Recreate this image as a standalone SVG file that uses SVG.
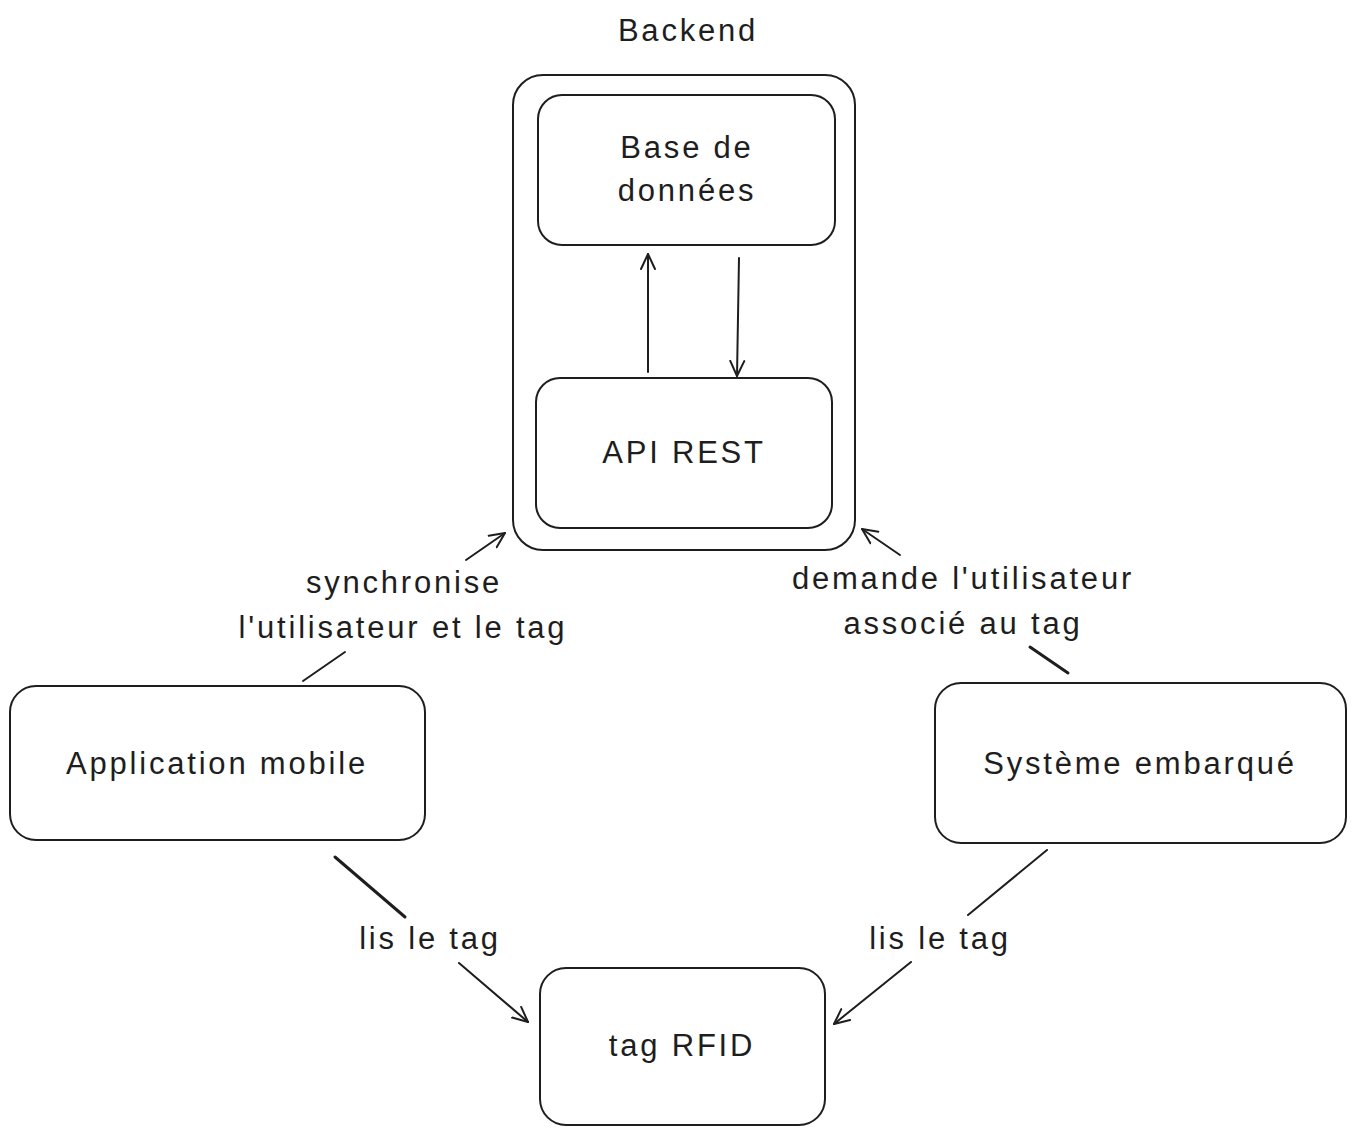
<svg xmlns="http://www.w3.org/2000/svg" width="1356" height="1135" viewBox="0 0 1356 1135">
<style>
.box{fill:#ffffff;stroke:#1e1e1e;stroke-width:2}
.lbl{font-family:"Liberation Sans","DejaVu Sans",sans-serif;font-size:31px;letter-spacing:2.8px;fill:#1e1e1e;text-anchor:middle;dominant-baseline:central}
.edge{fill:none;stroke:#1e1e1e;stroke-width:2;stroke-linecap:round}
</style>
<defs>
<marker id="arr" viewBox="-16 -10 20 20" markerWidth="20" markerHeight="20" refX="0" refY="0" orient="auto" markerUnits="userSpaceOnUse">
<path d="M -15 -7 L 0 0 L -15 7" fill="none" stroke="#1e1e1e" stroke-width="2" stroke-linecap="round" stroke-linejoin="round"/>
</marker>
</defs>
<rect width="1356" height="1135" fill="#ffffff"/>
<g id="backend">
<rect class="box" x="513" y="75" width="342" height="475" rx="30"/>
<text class="lbl" x="688" y="30">Backend</text>
</g>
<g id="database">
<rect class="box" x="538" y="95" width="297" height="150" rx="24"/>
<text class="lbl" x="687" y="147">Base de</text>
<text class="lbl" x="687" y="190">données</text>
</g>
<g id="api">
<rect class="box" x="536" y="378" width="296" height="150" rx="24"/>
<text class="lbl" x="684" y="452">API REST</text>
</g>
<g id="app">
<rect class="box" x="10" y="686" width="415" height="154" rx="26"/>
<text class="lbl" x="217" y="763">Application mobile</text>
</g>
<g id="embedded">
<rect class="box" x="935" y="683" width="411" height="160" rx="26"/>
<text class="lbl" x="1140" y="763">Système embarqué</text>
</g>
<g id="rfid">
<rect class="box" x="540" y="968" width="285" height="157" rx="26"/>
<text class="lbl" x="682" y="1045">tag RFID</text>
</g>
<g id="connectors">
<path class="edge" d="M 648 372 L 648 254" marker-end="url(#arr)"/>
<path class="edge" d="M 739 258 L 737 376" marker-end="url(#arr)"/>
<path class="edge" d="M 303 681 L 345 652"/>
<path class="edge" d="M 466 560 L 505 533" marker-end="url(#arr)"/>
<text class="lbl" x="404" y="582">synchronise</text>
<text class="lbl" x="403" y="627">l'utilisateur et le tag</text>
<path class="edge" d="M 1068 673 L 1030 647" style="stroke-width:3"/>
<path class="edge" d="M 900 555 L 862 529" marker-end="url(#arr)"/>
<text class="lbl" x="963" y="578">demande l'utilisateur</text>
<text class="lbl" x="963" y="623">associé au tag</text>
<path class="edge" d="M 335 857 L 405 917" style="stroke-width:3"/>
<path class="edge" d="M 459 963 L 528 1022" marker-end="url(#arr)"/>
<text class="lbl" x="430" y="938">lis le tag</text>
<path class="edge" d="M 1047 850 L 968 915"/>
<path class="edge" d="M 911 962 L 834 1024" marker-end="url(#arr)"/>
<text class="lbl" x="940" y="938">lis le tag</text>
</g>
</svg>
